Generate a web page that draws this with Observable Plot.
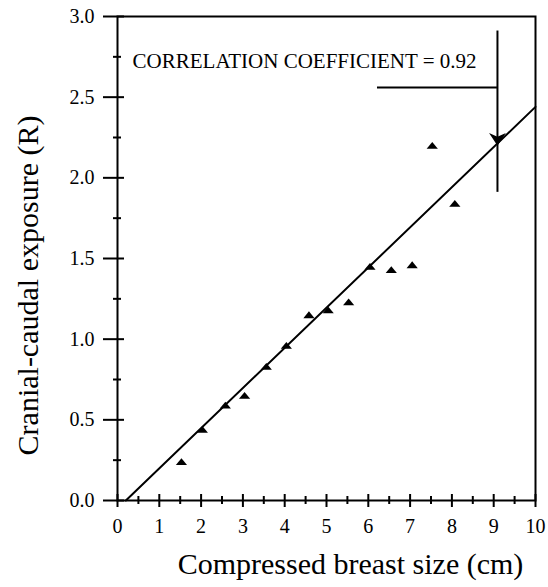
<!DOCTYPE html>
<html>
<head>
<meta charset="utf-8">
<script src="https://cdn.jsdelivr.net/npm/d3@7"></script>
<script src="https://cdn.jsdelivr.net/npm/@observablehq/plot@0.6"></script>
<style>
  html, body { margin: 0; padding: 0; background: #fff; }
  svg { display: block; }
  svg text { font-family: "Liberation Serif", "Times New Roman", serif !important; }
</style>
</head>
<body>
<div id="chart"></div>
<script>
// ---- data ----
const sizeCm    = [1.53, 2.03, 2.58, 3.04, 3.56, 4.04, 4.58, 5.04, 5.53, 6.04, 6.55, 7.05, 7.53, 8.07];
const exposureR = [0.24, 0.44, 0.59, 0.65, 0.83, 0.96, 1.15, 1.18, 1.23, 1.45, 1.43, 1.46, 2.20, 1.84];
const fitX = [0.2, 10];
const fitY = [0, 2.44];
const xMajorTicks = [0, 1, 2, 3, 4, 5, 6, 7, 8, 9, 10];
const xMinorTicks = [0.5, 1.5, 2.5, 3.5, 4.5, 5.5, 6.5, 7.5, 8.5, 9.5];
const yMajorTicks = [0, 0.5, 1.0, 1.5, 2.0, 2.5, 3.0];
const yMinorTicks = [0.25, 0.75, 1.25, 1.75, 2.25, 2.75];
const annotationText = ["CORRELATION COEFFICIENT = 0.92"];
const annotationPos = [{x: 0.36, y: 2.72}];
const pointerX = [9.09];
const pointerY = [1.91, 2.91];
const leaderX = [6.22, 9.09];
const leaderY = [2.56];
const arrowPos = [{x: 9.09, y: 2.24}];
const xLabel = "Compressed breast size (cm)";
const yLabel = "Cranial-caudal exposure (R)";

const points = sizeCm.map((x, i) => ({x, y: exposureR[i]}));
const fit = fitX.map((x, i) => ({x, y: fitY[i]}));

const flatTriangle = {
  draw(ctx, size) {
    const r = Math.sqrt(size / Math.PI);
    ctx.moveTo(-1.4 * r, 0.8 * r);
    ctx.lineTo(1.4 * r, 0.8 * r);
    ctx.lineTo(0, -0.9 * r);
    ctx.closePath();
  }
};
const arrowHead = {
  draw(ctx, size) {
    const r = Math.sqrt(size / Math.PI);
    ctx.moveTo(-1.4 * r, -r);
    ctx.lineTo(0, -0.4 * r);
    ctx.lineTo(1.4 * r, -r);
    ctx.lineTo(0, 1.1 * r);
    ctx.closePath();
  }
};

const chart = Plot.plot({
  width: 548,
  height: 587,
  marginLeft: 117,
  marginRight: 13,
  marginTop: 16,
  marginBottom: 87,
  style: {fontFamily: "Liberation Serif", fontSize: "20px", color: "#000", background: "#fff"},
  x: {domain: [0, 10], axis: null},
  y: {domain: [0, 3], axis: null},
  marks: [
    Plot.frame({stroke: "#000", strokeWidth: 2}),
    Plot.axisX({ticks: xMajorTicks, tickSize: 13, dy: -6, tickPadding: 11, strokeWidth: 2, label: null, fontSize: 20, tickFormat: d => String(d)}),
    Plot.axisX({ticks: xMinorTicks, tickSize: 8, dy: -4, strokeWidth: 2, label: null, tickFormat: () => ""}),
    Plot.axisY({ticks: yMajorTicks, tickSize: 21, dx: 7, tickPadding: 9, strokeWidth: 2, label: null, fontSize: 20, tickFormat: d3.format(".1f")}),
    Plot.axisY({ticks: yMinorTicks, tickSize: 8, dx: 4, strokeWidth: 2, label: null, tickFormat: () => ""}),
    Plot.line(fit, {x: "x", y: "y", stroke: "#000", strokeWidth: 2}),
    Plot.dot(points, {x: "x", y: "y", r: 4, symbol: flatTriangle, fill: "#000", stroke: "none"}),
    Plot.ruleX(pointerX, {x: d => d, y1: pointerY[0], y2: pointerY[1], stroke: "#000", strokeWidth: 2}),
    Plot.ruleY(leaderY, {y: d => d, x1: leaderX[0], x2: leaderX[1], stroke: "#000", strokeWidth: 2}),
    Plot.dot(arrowPos, {x: "x", y: "y", r: 6, symbol: arrowHead, fill: "#000", stroke: "none"}),
    Plot.text(annotationText, {x: () => annotationPos[0].x, y: () => annotationPos[0].y, text: d => d, textAnchor: "start", fontSize: 21, fill: "#000", fontFamily: "Liberation Serif"}),
    Plot.text([xLabel], {frameAnchor: "bottom", text: d => d, textAnchor: "middle", dx: 24, dy: 73, fontSize: 30, fill: "#000", fontFamily: "Liberation Serif"}),
    Plot.text([yLabel], {frameAnchor: "left", text: d => d, textAnchor: "middle", rotate: -90, dx: -89, dy: 27, fontSize: 30, fill: "#000", fontFamily: "Liberation Serif"})
  ]
});
document.getElementById("chart").appendChild(chart);
</script>
</body>
</html>
